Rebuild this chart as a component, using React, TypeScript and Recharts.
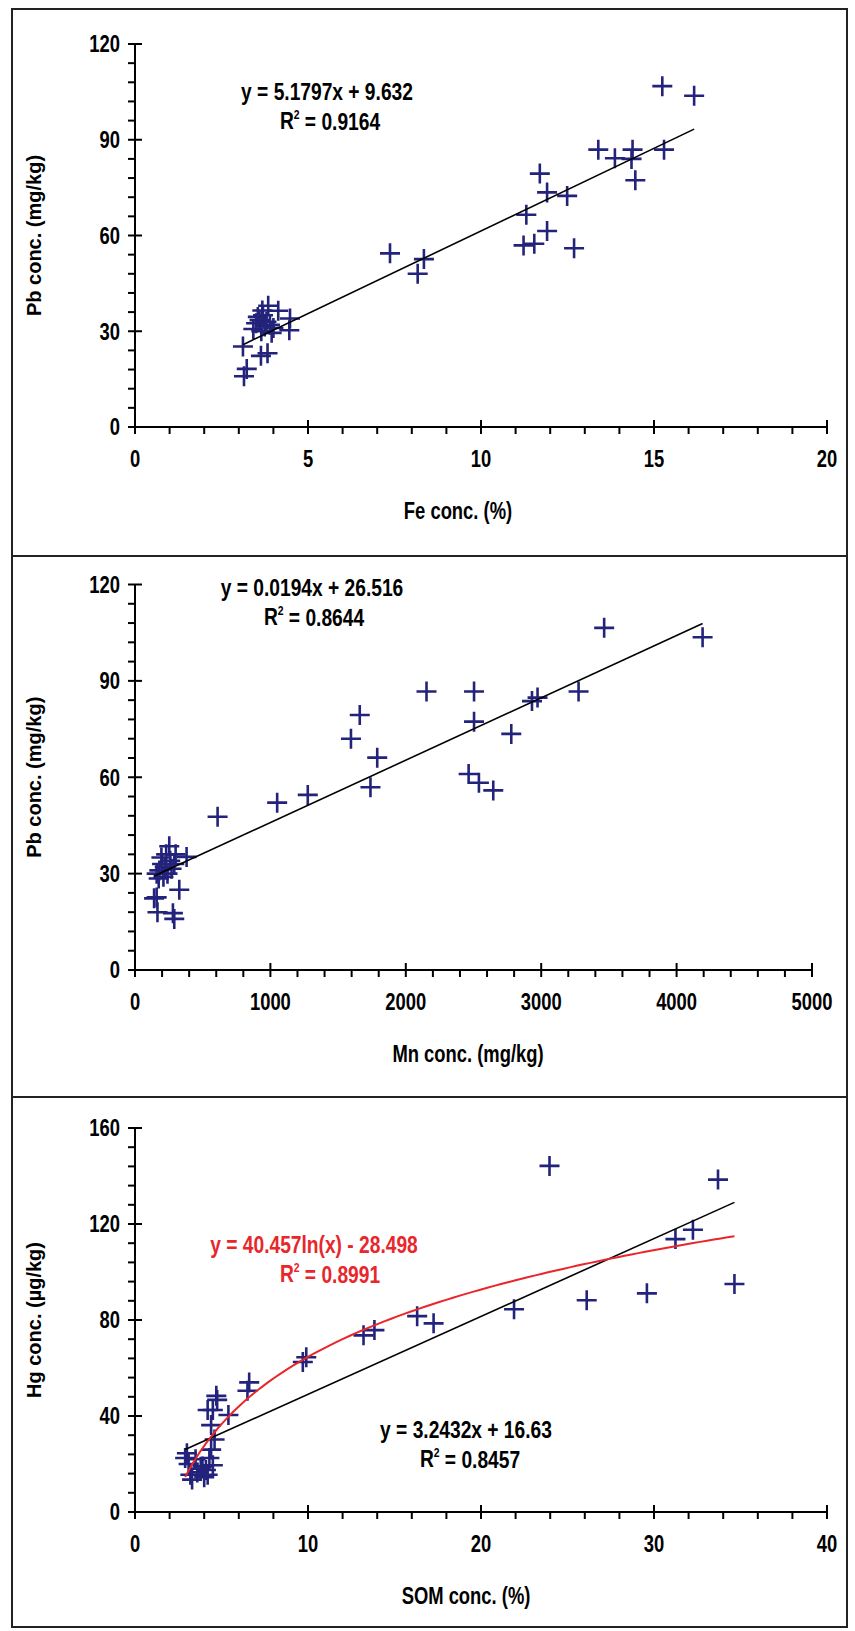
import React from 'react';
import { ScatterChart, Scatter, XAxis, YAxis } from 'recharts';

// ---------- data ----------
const feConc = [15.24, 16.16, 13.39, 13.87, 14.38, 14.35, 15.29, 14.46, 11.7, 11.91, 12.49, 11.31, 11.91, 11.23, 11.54, 12.69, 7.37, 8.35, 8.17,
  3.15, 3.23, 3.12, 3.83, 3.64, 4.46, 4.48, 3.85, 4.14, 3.42, 3.5, 3.6, 3.7, 3.75, 3.65, 3.55, 3.8, 3.9, 3.68, 4.0, 3.95];
const pbConcFe = [106.8, 103.8, 86.9, 84.2, 86.9, 84.0, 86.9, 77.3, 79.4, 73.5, 72.4, 66.5, 61.4, 56.9, 57.4, 56.0, 54.4, 52.6, 48.0,
  15.9, 18.2, 25.2, 23.1, 22.3, 30.3, 34.0, 38.0, 36.4, 30.7, 32.5, 33.5, 35.0, 31.5, 30.0, 34.5, 33.0, 32.0, 36.5, 31.0, 29.5];

const mnConc = [3465, 4192, 2153, 2504, 3276, 2932, 2973, 1660, 2504, 2779, 1595, 1789, 2464, 2540, 1739, 2646, 1276, 1050, 610,
  327, 141, 160, 166, 280, 290, 253, 381, 230, 200, 180, 160, 220, 260, 240, 290, 210, 270, 195, 300, 175];
const pbConcMn = [106.5, 103.6, 86.7, 86.7, 86.7, 83.7, 84.8, 79.4, 77.3, 73.5, 72.0, 66.1, 61.0, 58.3, 56.9, 55.9, 54.5, 52.1, 47.7,
  25.0, 22.3, 22.6, 18.0, 17.7, 15.9, 38.5, 35.2, 36.0, 33.0, 31.0, 30.0, 32.0, 34.0, 30.0, 33.0, 29.0, 31.5, 35.0, 36.0, 28.5];

const somConc = [23.96, 33.7, 31.24, 32.25, 34.65, 29.59, 26.11, 21.91, 16.31, 17.26, 13.21, 13.84, 9.9, 9.7, 6.6, 6.5,
  4.7, 4.75, 4.5, 4.2, 5.4, 4.4, 4.6,
  3.0, 2.9, 3.1, 3.2, 3.3, 3.6, 3.9, 4.1, 4.2, 4.3, 4.5, 4.0, 3.5, 4.4, 3.8];
const hgConc = [144.2, 138.5, 113.7, 117.6, 95.0, 91.1, 88.2, 84.5, 81.6, 78.6, 73.6, 75.8, 64.5, 62.5, 54.0, 50.5,
  48.4, 46.7, 42.5, 42.5, 40.4, 36.2, 30.2,
  24.5, 22.5, 20.0, 15.5, 13.5, 16.5, 19.0, 17.5, 15.5, 22.5, 19.5, 14.5, 22.0, 26.0, 18.0];

// regression equations shown in the chart
const FE_FIT = { a: 5.1797, b: 9.632 };
const MN_FIT = { a: 0.0194, b: 26.516 };
const SOM_LIN_FIT = { a: 3.2432, b: 16.63 };
const SOM_LOG_FIT = { a: 40.457, b: -28.498 };

const FE_X_MAJOR = [0, 5, 10, 15, 20];
const MN_X_MAJOR = [0, 1000, 2000, 3000, 4000, 5000];
const SOM_X_MAJOR = [0, 10, 20, 30, 40];
const PB_Y_MAJOR = [0, 30, 60, 90, 120];
const HG_Y_MAJOR = [0, 40, 80, 120, 160];

// ---------- helpers ----------
const SANS = "'Liberation Sans', Arial, sans-serif";
const SQUEEZE = 0.8;
const MARK = '#23237b';

const zip = (xs: number[], ys: number[]) => xs.map((x, i) => ({ x, y: ys[i] }));

function withMinor(major: number[], parts: number) {
  const out: number[] = [];
  for (let i = 0; i < major.length - 1; i++) {
    const step = (major[i + 1] - major[i]) / parts;
    for (let k = 0; k < parts; k++) out.push(+(major[i] + k * step).toFixed(6));
  }
  out.push(major[major.length - 1]);
  return out;
}

function linearLine(xs: number[], fit: { a: number; b: number }) {
  const lo = Math.min(...xs);
  const hi = Math.max(...xs);
  return [lo, hi].map((x) => ({ x, y: fit.a * x + fit.b }));
}

function logCurve(xs: number[], fit: { a: number; b: number }, n = 80) {
  const lo = Math.min(...xs);
  const hi = Math.max(...xs);
  const pts = [];
  for (let i = 0; i <= n; i++) {
    const x = lo + ((hi - lo) * i) / n;
    pts.push({ x, y: fit.a * Math.log(x) + fit.b });
  }
  return pts;
}

// condensed bold text (Arial Narrow look)
const NText = (p: { x: number; y: number; size: number; anchor?: string; color?: string; children: React.ReactNode }) => (
  <text
    transform={`translate(${p.x},${p.y}) scale(${SQUEEZE},1)`}
    textAnchor={p.anchor ?? 'middle'}
    dominantBaseline="central"
    fontFamily={SANS}
    fontWeight="bold"
    fontSize={p.size}
    fill={p.color ?? '#000'}
  >
    {p.children}
  </text>
);

const Cross = (props: any) => {
  const { cx, cy } = props;
  if (cx == null || cy == null) return <g />;
  return (
    <path d={`M${cx - 10},${cy}h20M${cx},${cy - 10}v20`} stroke={MARK} strokeWidth={2.6} fill="none" />
  );
};
const NoShape = () => <g />;

type TextItem = { x: number; y: number; text: React.ReactNode; color?: string; size?: number };

type PanelProps = {
  top: number;
  height: number;
  plot: { l: number; r: number; t: number; b: number };
  xMajor: number[];
  xParts: number;
  yMajor: number[];
  yParts: number;
  points: { x: number; y: number }[];
  lines: { data: { x: number; y: number }[]; color: string; width: number }[];
  xTitle: string;
  xTitleX: number;
  yTitle: string;
  texts: TextItem[];
};

function Panel(p: PanelProps) {
  const W = 855;
  const xTicks = withMinor(p.xMajor, p.xParts);
  const yTicks = withMinor(p.yMajor, p.yParts);
  const xAxisH = 20;

  const XTick = (props: any) => {
    const { x, y, payload } = props;
    const v = payload.value;
    const major = p.xMajor.includes(v);
    return (
      <g>
        <line x1={x} x2={x} y1={major ? y - 7 : y} y2={y + 7} stroke="#000" strokeWidth={2} />
        {major && (
          <NText x={x} y={y + 32} size={23}>
            {v}
          </NText>
        )}
      </g>
    );
  };
  const YTick = (props: any) => {
    const { x, y, payload } = props;
    const v = payload.value;
    const major = p.yMajor.includes(v);
    return (
      <g>
        <line x1={x - 7} x2={major ? x + 7 : x} y1={y} y2={y} stroke="#000" strokeWidth={2} />
        {major && (
          <NText x={x - 15} y={y} size={23} anchor="end">
            {v}
          </NText>
        )}
      </g>
    );
  };

  return (
    <div style={{ position: 'absolute', left: 0, top: p.top, width: W, height: p.height }}>
      <ScatterChart
        width={W}
        height={p.height}
        margin={{ top: p.plot.t, right: W - p.plot.r, bottom: p.height - p.plot.b - xAxisH, left: 0 }}
      >
        <XAxis
          type="number"
          dataKey="x"
          domain={[p.xMajor[0], p.xMajor[p.xMajor.length - 1]]}
          ticks={xTicks}
          interval={0}
          tickSize={0}
          tickMargin={0}
          tick={XTick}
          tickLine={false}
          axisLine={{ stroke: '#000', strokeWidth: 2 }}
          height={xAxisH}
          allowDataOverflow
        />
        <YAxis
          type="number"
          dataKey="y"
          domain={[p.yMajor[0], p.yMajor[p.yMajor.length - 1]]}
          ticks={yTicks}
          interval={0}
          tickSize={0}
          tickMargin={0}
          tick={YTick}
          tickLine={false}
          axisLine={{ stroke: '#000', strokeWidth: 2 }}
          width={p.plot.l}
          allowDataOverflow
        />
        <Scatter data={p.points} shape={Cross} isAnimationActive={false} />
        {p.lines.map((ln, i) => (
          <Scatter
            key={i}
            data={ln.data}
            shape={NoShape}
            line={{ stroke: ln.color, strokeWidth: ln.width }}
            lineType="joint"
            isAnimationActive={false}
          />
        ))}
      </ScatterChart>
      <svg width={W} height={p.height} style={{ position: 'absolute', left: 0, top: 0, pointerEvents: 'none' }}>
        <NText x={p.xTitleX} y={p.plot.b + 84} size={23}>
          {p.xTitle}
        </NText>
        <text
          transform={`translate(34, ${(p.plot.t + p.plot.b) / 2}) rotate(-90)`}
          textAnchor="middle"
          dominantBaseline="central"
          fontFamily={SANS}
          fontWeight="bold"
          fontSize={20}
          fill="#000"
        >
          {p.yTitle}
        </text>
        {p.texts.map((t, i) => (
          <NText key={i} x={t.x} y={t.y} size={t.size ?? 24} color={t.color}>
            {t.text}
          </NText>
        ))}
      </svg>
    </div>
  );
}

const R2 = (v: string) => (
  <>
    R<tspan fontSize={13} dy={-8}>2</tspan>
    <tspan dy={8}> = {v}</tspan>
  </>
);

export default function App() {
  return (
    <div style={{ position: 'absolute', left: 0, top: 0, width: 855, height: 1631, background: '#fff' }}>
      <Panel
        top={0}
        height={556}
        plot={{ l: 135, r: 827, t: 44, b: 427 }}
        xMajor={FE_X_MAJOR}
        xParts={5}
        yMajor={PB_Y_MAJOR}
        yParts={5}
        points={zip(feConc, pbConcFe)}
        lines={[{ data: linearLine(feConc, FE_FIT), color: '#000', width: 1.6 }]}
        xTitle="Fe conc. (%)"
        xTitleX={458}
        yTitle="Pb conc. (mg/kg)"
        texts={[
          { x: 327, y: 92, text: 'y = 5.1797x + 9.632' },
          { x: 330, y: 121, text: R2('0.9164') },
        ]}
      />
      <Panel
        top={556}
        height={541}
        plot={{ l: 135, r: 812, t: 28.5, b: 414 }}
        xMajor={MN_X_MAJOR}
        xParts={5}
        yMajor={PB_Y_MAJOR}
        yParts={5}
        points={zip(mnConc, pbConcMn)}
        lines={[{ data: linearLine(mnConc, MN_FIT), color: '#000', width: 1.6 }]}
        xTitle="Mn conc. (mg/kg)"
        xTitleX={468}
        yTitle="Pb conc. (mg/kg)"
        texts={[
          { x: 312, y: 32, text: 'y = 0.0194x + 26.516' },
          { x: 314, y: 61, text: R2('0.8644') },
        ]}
      />
      <Panel
        top={1097}
        height={534}
        plot={{ l: 135, r: 827, t: 31, b: 415 }}
        xMajor={SOM_X_MAJOR}
        xParts={5}
        yMajor={HG_Y_MAJOR}
        yParts={5}
        points={zip(somConc, hgConc)}
        lines={[
          { data: linearLine(somConc, SOM_LIN_FIT), color: '#000', width: 1.6 },
          { data: logCurve(somConc, SOM_LOG_FIT), color: '#e8262b', width: 2 },
        ]}
        xTitle="SOM conc. (%)"
        xTitleX={466}
        yTitle="Hg conc. (µg/kg)"
        texts={[
          { x: 314, y: 148, text: 'y = 40.457ln(x) - 28.498', color: '#e8262b' },
          { x: 330, y: 177, text: R2('0.8991'), color: '#e8262b' },
          { x: 466, y: 333, text: 'y = 3.2432x + 16.63' },
          { x: 470, y: 362, text: R2('0.8457') },
        ]}
      />
      {/* frame */}
      <div style={{ position: 'absolute', left: 11, top: 8, width: 837, height: 1620, border: '2px solid #222', boxSizing: 'border-box' }} />
      <div style={{ position: 'absolute', left: 11, top: 555, width: 837, height: 2, background: '#222' }} />
      <div style={{ position: 'absolute', left: 11, top: 1096, width: 837, height: 2, background: '#222' }} />
    </div>
  );
}
